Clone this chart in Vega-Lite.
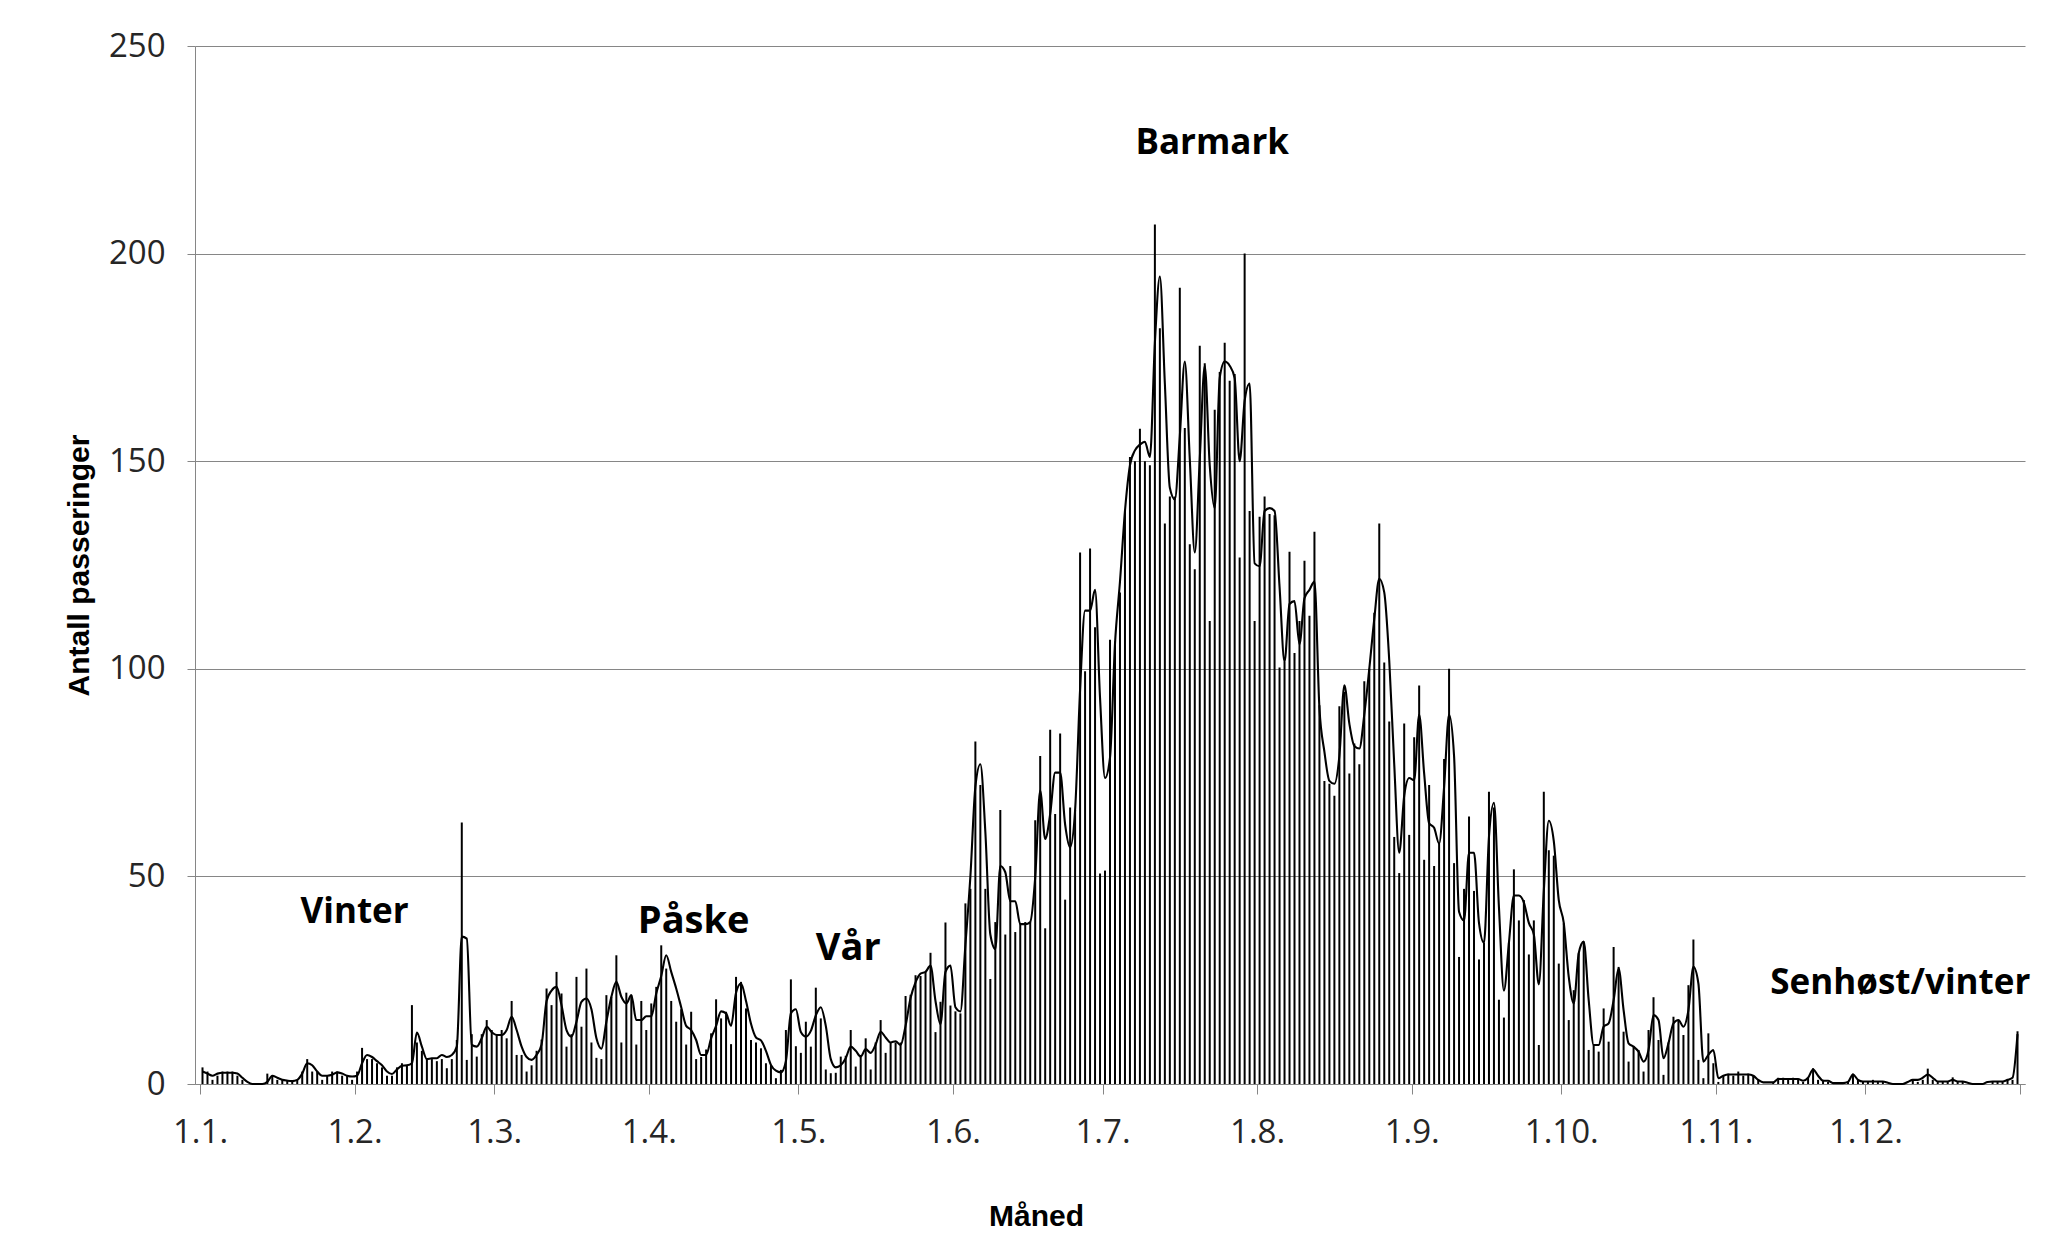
{
  "$schema": "https://vega.github.io/schema/vega-lite/v6.json",
  "autosize": "none",
  "width": 1830,
  "height": 1038,
  "padding": {"left": 195, "top": 46, "right": 32, "bottom": 149},
  "background": "white",
  "config": {"view": {"stroke": null}, "font": "Open Sans"},
  "datasets": {
    "daglig": [
      {"dato":"2011-01-01","antall":4,"utjevnet":3},{"dato":"2011-01-02","antall":3,"utjevnet":2.5},{"dato":"2011-01-03","antall":1,"utjevnet":2},{"dato":"2011-01-04","antall":2,"utjevnet":2.5},{"dato":"2011-01-05","antall":3,"utjevnet":2.7},{"dato":"2011-01-06","antall":3,"utjevnet":2.7},{"dato":"2011-01-07","antall":3,"utjevnet":2.7},{"dato":"2011-01-08","antall":2,"utjevnet":2.5},{"dato":"2011-01-09","antall":1,"utjevnet":1.5},{"dato":"2011-01-10","antall":0,"utjevnet":0.5},{"dato":"2011-01-11","antall":0,"utjevnet":0},{"dato":"2011-01-12","antall":0,"utjevnet":0},{"dato":"2011-01-13","antall":0,"utjevnet":0},{"dato":"2011-01-14","antall":2.5,"utjevnet":0.5},{"dato":"2011-01-15","antall":2,"utjevnet":2},{"dato":"2011-01-16","antall":1,"utjevnet":1.5},{"dato":"2011-01-17","antall":1,"utjevnet":1},{"dato":"2011-01-18","antall":1,"utjevnet":0.8},{"dato":"2011-01-19","antall":0.5,"utjevnet":0.7},{"dato":"2011-01-20","antall":1,"utjevnet":1},{"dato":"2011-01-21","antall":3,"utjevnet":2.5},{"dato":"2011-01-22","antall":6,"utjevnet":5},{"dato":"2011-01-23","antall":3,"utjevnet":4.5},{"dato":"2011-01-24","antall":3,"utjevnet":3},{"dato":"2011-01-25","antall":1,"utjevnet":2},{"dato":"2011-01-26","antall":2,"utjevnet":2},{"dato":"2011-01-27","antall":3,"utjevnet":2.2},{"dato":"2011-01-28","antall":3,"utjevnet":2.8},{"dato":"2011-01-29","antall":2,"utjevnet":2.5},{"dato":"2011-01-30","antall":2,"utjevnet":2},{"dato":"2011-01-31","antall":1,"utjevnet":1.8},
      {"dato":"2011-02-01","antall":3,"utjevnet":2},{"dato":"2011-02-02","antall":8.7,"utjevnet":5},{"dato":"2011-02-03","antall":6,"utjevnet":7},{"dato":"2011-02-04","antall":6,"utjevnet":6.5},{"dato":"2011-02-05","antall":5,"utjevnet":5.5},{"dato":"2011-02-06","antall":4,"utjevnet":4.5},{"dato":"2011-02-07","antall":2,"utjevnet":3},{"dato":"2011-02-08","antall":2,"utjevnet":2.4},{"dato":"2011-02-09","antall":4,"utjevnet":3.5},{"dato":"2011-02-10","antall":5,"utjevnet":4.4},{"dato":"2011-02-11","antall":4.5,"utjevnet":4.5},{"dato":"2011-02-12","antall":19,"utjevnet":5},{"dato":"2011-02-13","antall":10,"utjevnet":12.4},{"dato":"2011-02-14","antall":8,"utjevnet":9},{"dato":"2011-02-15","antall":6,"utjevnet":6},{"dato":"2011-02-16","antall":6,"utjevnet":6.2},{"dato":"2011-02-17","antall":5.5,"utjevnet":6.2},{"dato":"2011-02-18","antall":6,"utjevnet":7},{"dato":"2011-02-19","antall":3.8,"utjevnet":6.5},{"dato":"2011-02-20","antall":6,"utjevnet":7},{"dato":"2011-02-21","antall":10.6,"utjevnet":9},{"dato":"2011-02-22","antall":63,"utjevnet":35.5},{"dato":"2011-02-23","antall":5.8,"utjevnet":35},{"dato":"2011-02-24","antall":12,"utjevnet":9.4},{"dato":"2011-02-25","antall":6.6,"utjevnet":9},{"dato":"2011-02-26","antall":12,"utjevnet":11},{"dato":"2011-02-27","antall":15.4,"utjevnet":13.8},{"dato":"2011-02-28","antall":13,"utjevnet":12.5},
      {"dato":"2011-03-01","antall":12,"utjevnet":11.8},{"dato":"2011-03-02","antall":13,"utjevnet":11.8},{"dato":"2011-03-03","antall":11,"utjevnet":13},{"dato":"2011-03-04","antall":20,"utjevnet":16.2},{"dato":"2011-03-05","antall":7,"utjevnet":13},{"dato":"2011-03-06","antall":7,"utjevnet":9},{"dato":"2011-03-07","antall":3,"utjevnet":6.5},{"dato":"2011-03-08","antall":4.5,"utjevnet":5.8},{"dato":"2011-03-09","antall":8,"utjevnet":7},{"dato":"2011-03-10","antall":10.7,"utjevnet":9.5},{"dato":"2011-03-11","antall":23,"utjevnet":20},{"dato":"2011-03-12","antall":19,"utjevnet":22.5},{"dato":"2011-03-13","antall":27,"utjevnet":23.4},{"dato":"2011-03-14","antall":21.8,"utjevnet":19},{"dato":"2011-03-15","antall":9,"utjevnet":13},{"dato":"2011-03-16","antall":12,"utjevnet":11.4},{"dato":"2011-03-17","antall":25.8,"utjevnet":15},{"dato":"2011-03-18","antall":13.8,"utjevnet":19.8},{"dato":"2011-03-19","antall":27.8,"utjevnet":20.6},{"dato":"2011-03-20","antall":10,"utjevnet":18},{"dato":"2011-03-21","antall":6.3,"utjevnet":11},{"dato":"2011-03-22","antall":6,"utjevnet":8.5},{"dato":"2011-03-23","antall":21.4,"utjevnet":15},{"dato":"2011-03-24","antall":21,"utjevnet":21},{"dato":"2011-03-25","antall":31,"utjevnet":24.6},{"dato":"2011-03-26","antall":10,"utjevnet":21},{"dato":"2011-03-27","antall":22,"utjevnet":19.4},{"dato":"2011-03-28","antall":21.4,"utjevnet":21.4},{"dato":"2011-03-29","antall":9.5,"utjevnet":15.4},{"dato":"2011-03-30","antall":20,"utjevnet":15.4},{"dato":"2011-03-31","antall":13,"utjevnet":16.3},
      {"dato":"2011-04-01","antall":19.4,"utjevnet":16.3},{"dato":"2011-04-02","antall":23.4,"utjevnet":21.8},{"dato":"2011-04-03","antall":33.4,"utjevnet":26},{"dato":"2011-04-04","antall":27.8,"utjevnet":31},{"dato":"2011-04-05","antall":20,"utjevnet":27},{"dato":"2011-04-06","antall":15,"utjevnet":23},{"dato":"2011-04-07","antall":18,"utjevnet":18.5},{"dato":"2011-04-08","antall":9.5,"utjevnet":14},{"dato":"2011-04-09","antall":17.4,"utjevnet":13},{"dato":"2011-04-10","antall":6,"utjevnet":10.6},{"dato":"2011-04-11","antall":6.5,"utjevnet":7},{"dato":"2011-04-12","antall":8.3,"utjevnet":7},{"dato":"2011-04-13","antall":12.2,"utjevnet":11},{"dato":"2011-04-14","antall":20.4,"utjevnet":14},{"dato":"2011-04-15","antall":15.8,"utjevnet":17.5},{"dato":"2011-04-16","antall":17.4,"utjevnet":17},{"dato":"2011-04-17","antall":9.6,"utjevnet":14},{"dato":"2011-04-18","antall":25.8,"utjevnet":22},{"dato":"2011-04-19","antall":24.6,"utjevnet":24.2},{"dato":"2011-04-20","antall":18.2,"utjevnet":20},{"dato":"2011-04-21","antall":10.6,"utjevnet":14.5},{"dato":"2011-04-22","antall":10,"utjevnet":11.2},{"dato":"2011-04-23","antall":8.6,"utjevnet":10.5},{"dato":"2011-04-24","antall":5,"utjevnet":8},{"dato":"2011-04-25","antall":4.6,"utjevnet":4.6},{"dato":"2011-04-26","antall":1.4,"utjevnet":3.2},{"dato":"2011-04-27","antall":3.4,"utjevnet":2.8},{"dato":"2011-04-28","antall":13,"utjevnet":5.5},{"dato":"2011-04-29","antall":25.2,"utjevnet":17},{"dato":"2011-04-30","antall":9.1,"utjevnet":18},
      {"dato":"2011-05-01","antall":7.5,"utjevnet":12.5},{"dato":"2011-05-02","antall":15,"utjevnet":11.4},{"dato":"2011-05-03","antall":9,"utjevnet":12.8},{"dato":"2011-05-04","antall":23.2,"utjevnet":16.5},{"dato":"2011-05-05","antall":15.8,"utjevnet":18.5},{"dato":"2011-05-06","antall":3.5,"utjevnet":14},{"dato":"2011-05-07","antall":2.6,"utjevnet":6},{"dato":"2011-05-08","antall":2.7,"utjevnet":4},{"dato":"2011-05-09","antall":6.6,"utjevnet":4.5},{"dato":"2011-05-10","antall":6.8,"utjevnet":6.2},{"dato":"2011-05-11","antall":13,"utjevnet":9},{"dato":"2011-05-12","antall":4.2,"utjevnet":8},{"dato":"2011-05-13","antall":7,"utjevnet":6.6},{"dato":"2011-05-14","antall":11,"utjevnet":8.4},{"dato":"2011-05-15","antall":3.5,"utjevnet":7.5},{"dato":"2011-05-16","antall":10,"utjevnet":9.5},{"dato":"2011-05-17","antall":15.4,"utjevnet":12.6},{"dato":"2011-05-18","antall":7.5,"utjevnet":11.2},{"dato":"2011-05-19","antall":10,"utjevnet":10},{"dato":"2011-05-20","antall":10,"utjevnet":10.3},{"dato":"2011-05-21","antall":10,"utjevnet":9.4},{"dato":"2011-05-22","antall":21.2,"utjevnet":14},{"dato":"2011-05-23","antall":21.5,"utjevnet":20.7},{"dato":"2011-05-24","antall":26.2,"utjevnet":24.5},{"dato":"2011-05-25","antall":26,"utjevnet":26.6},{"dato":"2011-05-26","antall":27,"utjevnet":27},{"dato":"2011-05-27","antall":31.6,"utjevnet":28.5},{"dato":"2011-05-28","antall":12.5,"utjevnet":20},{"dato":"2011-05-29","antall":19.8,"utjevnet":14.4},{"dato":"2011-05-30","antall":38.9,"utjevnet":27},{"dato":"2011-05-31","antall":18.9,"utjevnet":28.5},
      {"dato":"2011-06-01","antall":17.5,"utjevnet":18.5},{"dato":"2011-06-02","antall":17,"utjevnet":17.5},{"dato":"2011-06-03","antall":43.5,"utjevnet":33.5},{"dato":"2011-06-04","antall":47,"utjevnet":50},{"dato":"2011-06-05","antall":82.5,"utjevnet":71.6},{"dato":"2011-06-06","antall":72,"utjevnet":77},{"dato":"2011-06-07","antall":47,"utjevnet":60.7},{"dato":"2011-06-08","antall":25.3,"utjevnet":36},{"dato":"2011-06-09","antall":39,"utjevnet":32.5},{"dato":"2011-06-10","antall":66,"utjevnet":52.5},{"dato":"2011-06-11","antall":36,"utjevnet":51},{"dato":"2011-06-12","antall":52.5,"utjevnet":44},{"dato":"2011-06-13","antall":36.6,"utjevnet":44},{"dato":"2011-06-14","antall":38.5,"utjevnet":38.5},{"dato":"2011-06-15","antall":39,"utjevnet":38.5},{"dato":"2011-06-16","antall":39,"utjevnet":39},{"dato":"2011-06-17","antall":63.5,"utjevnet":49.8},{"dato":"2011-06-18","antall":79,"utjevnet":70.7},{"dato":"2011-06-19","antall":37.5,"utjevnet":59},{"dato":"2011-06-20","antall":85.3,"utjevnet":65},{"dato":"2011-06-21","antall":65,"utjevnet":75},{"dato":"2011-06-22","antall":84.4,"utjevnet":75},{"dato":"2011-06-23","antall":44.4,"utjevnet":62.5},{"dato":"2011-06-24","antall":66.6,"utjevnet":57},{"dato":"2011-06-25","antall":66,"utjevnet":66},{"dato":"2011-06-26","antall":128,"utjevnet":95},{"dato":"2011-06-27","antall":99.4,"utjevnet":114},{"dato":"2011-06-28","antall":129,"utjevnet":114},{"dato":"2011-06-29","antall":110,"utjevnet":119},{"dato":"2011-06-30","antall":50.7,"utjevnet":93},
      {"dato":"2011-07-01","antall":51.4,"utjevnet":73.7},{"dato":"2011-07-02","antall":107,"utjevnet":78.6},{"dato":"2011-07-03","antall":106.6,"utjevnet":106},{"dato":"2011-07-04","antall":118.4,"utjevnet":121},{"dato":"2011-07-05","antall":138,"utjevnet":138},{"dato":"2011-07-06","antall":151,"utjevnet":149},{"dato":"2011-07-07","antall":150,"utjevnet":152.6},{"dato":"2011-07-08","antall":157.8,"utjevnet":154},{"dato":"2011-07-09","antall":150,"utjevnet":154.7},{"dato":"2011-07-10","antall":149,"utjevnet":151},{"dato":"2011-07-11","antall":207,"utjevnet":178.5},{"dato":"2011-07-12","antall":182,"utjevnet":194.5},{"dato":"2011-07-13","antall":135,"utjevnet":168.7},{"dato":"2011-07-14","antall":141.5,"utjevnet":143.6},{"dato":"2011-07-15","antall":141.5,"utjevnet":140.8},{"dato":"2011-07-16","antall":191.8,"utjevnet":156},{"dato":"2011-07-17","antall":158,"utjevnet":174},{"dato":"2011-07-18","antall":130,"utjevnet":150.5},{"dato":"2011-07-19","antall":124,"utjevnet":128},{"dato":"2011-07-20","antall":177.8,"utjevnet":150.5},{"dato":"2011-07-21","antall":173.6,"utjevnet":173},{"dato":"2011-07-22","antall":111.5,"utjevnet":149},{"dato":"2011-07-23","antall":162.4,"utjevnet":138.7},{"dato":"2011-07-24","antall":171.5,"utjevnet":170},{"dato":"2011-07-25","antall":178.5,"utjevnet":174},{"dato":"2011-07-26","antall":169.4,"utjevnet":173},{"dato":"2011-07-27","antall":171,"utjevnet":170},{"dato":"2011-07-28","antall":126.8,"utjevnet":150},{"dato":"2011-07-29","antall":200,"utjevnet":164.5},{"dato":"2011-07-30","antall":138,"utjevnet":168.7},{"dato":"2011-07-31","antall":111.5,"utjevnet":125.4},
      {"dato":"2011-08-01","antall":136.6,"utjevnet":124.7},{"dato":"2011-08-02","antall":141.5,"utjevnet":138},{"dato":"2011-08-03","antall":137.3,"utjevnet":138.7},{"dato":"2011-08-04","antall":137,"utjevnet":138},{"dato":"2011-08-05","antall":100.3,"utjevnet":119.8},{"dato":"2011-08-06","antall":101.7,"utjevnet":101.7},{"dato":"2011-08-07","antall":128.2,"utjevnet":115.6},{"dato":"2011-08-08","antall":103.8,"utjevnet":116.3},{"dato":"2011-08-09","antall":111.5,"utjevnet":105.9},{"dato":"2011-08-10","antall":126,"utjevnet":117},{"dato":"2011-08-11","antall":112.8,"utjevnet":119},{"dato":"2011-08-12","antall":133,"utjevnet":121},{"dato":"2011-08-13","antall":91.2,"utjevnet":90.5},{"dato":"2011-08-14","antall":73,"utjevnet":80},{"dato":"2011-08-15","antall":72.3,"utjevnet":73},{"dato":"2011-08-16","antall":69.4,"utjevnet":72.3},{"dato":"2011-08-17","antall":91,"utjevnet":79},{"dato":"2011-08-18","antall":94.4,"utjevnet":96},{"dato":"2011-08-19","antall":74.8,"utjevnet":86.8},{"dato":"2011-08-20","antall":82,"utjevnet":81.4},{"dato":"2011-08-21","antall":77,"utjevnet":80.8},{"dato":"2011-08-22","antall":97,"utjevnet":89},{"dato":"2011-08-23","antall":100,"utjevnet":100},{"dato":"2011-08-24","antall":113.5,"utjevnet":112},{"dato":"2011-08-25","antall":135,"utjevnet":121.7},{"dato":"2011-08-26","antall":101.5,"utjevnet":118.4},{"dato":"2011-08-27","antall":87.3,"utjevnet":102},{"dato":"2011-08-28","antall":59.5,"utjevnet":77},{"dato":"2011-08-29","antall":50.8,"utjevnet":55.7},{"dato":"2011-08-30","antall":86.8,"utjevnet":69.4},{"dato":"2011-08-31","antall":60,"utjevnet":73.7},
      {"dato":"2011-09-01","antall":83.5,"utjevnet":73.2},{"dato":"2011-09-02","antall":96,"utjevnet":89},{"dato":"2011-09-03","antall":54,"utjevnet":74.8},{"dato":"2011-09-04","antall":72,"utjevnet":62.8},{"dato":"2011-09-05","antall":52.5,"utjevnet":61.7},{"dato":"2011-09-06","antall":57.9,"utjevnet":57.9},{"dato":"2011-09-07","antall":78.3,"utjevnet":71.5},{"dato":"2011-09-08","antall":100,"utjevnet":89},{"dato":"2011-09-09","antall":53.2,"utjevnet":79},{"dato":"2011-09-10","antall":30.6,"utjevnet":41.5},{"dato":"2011-09-11","antall":47,"utjevnet":39.4},{"dato":"2011-09-12","antall":64.4,"utjevnet":55.7},{"dato":"2011-09-13","antall":46.5,"utjevnet":55.7},{"dato":"2011-09-14","antall":30,"utjevnet":38.8},{"dato":"2011-09-15","antall":34,"utjevnet":34},{"dato":"2011-09-16","antall":70.4,"utjevnet":59.5},{"dato":"2011-09-17","antall":66.6,"utjevnet":67.7},{"dato":"2011-09-18","antall":20.3,"utjevnet":42.6},{"dato":"2011-09-19","antall":16,"utjevnet":22.5},{"dato":"2011-09-20","antall":34,"utjevnet":34},{"dato":"2011-09-21","antall":51.7,"utjevnet":45.4},{"dato":"2011-09-22","antall":39.4,"utjevnet":45.4},{"dato":"2011-09-23","antall":44.3,"utjevnet":43.7},{"dato":"2011-09-24","antall":31.2,"utjevnet":38.8},{"dato":"2011-09-25","antall":39.4,"utjevnet":36},{"dato":"2011-09-26","antall":9.4,"utjevnet":24},{"dato":"2011-09-27","antall":70.4,"utjevnet":46.5},{"dato":"2011-09-28","antall":56.3,"utjevnet":63.4},{"dato":"2011-09-29","antall":55,"utjevnet":58.5},{"dato":"2011-09-30","antall":29,"utjevnet":44.3},
      {"dato":"2011-10-01","antall":38.7,"utjevnet":38.8},{"dato":"2011-10-02","antall":15.4,"utjevnet":25.8},{"dato":"2011-10-03","antall":22.6,"utjevnet":19.4},{"dato":"2011-10-04","antall":31.5,"utjevnet":31.5},{"dato":"2011-10-05","antall":34.3,"utjevnet":34.3},{"dato":"2011-10-06","antall":8.2,"utjevnet":20.2},{"dato":"2011-10-07","antall":9.4,"utjevnet":9.4},{"dato":"2011-10-08","antall":7.8,"utjevnet":9.4},{"dato":"2011-10-09","antall":18.2,"utjevnet":13.8},{"dato":"2011-10-10","antall":10.2,"utjevnet":14.6},{"dato":"2011-10-11","antall":33,"utjevnet":20.2},{"dato":"2011-10-12","antall":28.2,"utjevnet":27.8},{"dato":"2011-10-13","antall":12.6,"utjevnet":17.8},{"dato":"2011-10-14","antall":5.4,"utjevnet":9.8},{"dato":"2011-10-15","antall":9,"utjevnet":9},{"dato":"2011-10-16","antall":8.2,"utjevnet":7.8},{"dato":"2011-10-17","antall":3,"utjevnet":5.4},{"dato":"2011-10-18","antall":13,"utjevnet":8.2},{"dato":"2011-10-19","antall":20.9,"utjevnet":16.6},{"dato":"2011-10-20","antall":10.6,"utjevnet":15.4},{"dato":"2011-10-21","antall":2.2,"utjevnet":6.2},{"dato":"2011-10-22","antall":10,"utjevnet":9.8},{"dato":"2011-10-23","antall":16.2,"utjevnet":14.6},{"dato":"2011-10-24","antall":15.4,"utjevnet":15.4},{"dato":"2011-10-25","antall":11.8,"utjevnet":13.8},{"dato":"2011-10-26","antall":23.8,"utjevnet":17.8},{"dato":"2011-10-27","antall":34.8,"utjevnet":28.2},{"dato":"2011-10-28","antall":5.8,"utjevnet":24.2},{"dato":"2011-10-29","antall":1.4,"utjevnet":5.4},{"dato":"2011-10-30","antall":12.2,"utjevnet":7},{"dato":"2011-10-31","antall":5,"utjevnet":8.2},
      {"dato":"2011-11-01","antall":0.5,"utjevnet":1.4},{"dato":"2011-11-02","antall":2,"utjevnet":2},{"dato":"2011-11-03","antall":2.5,"utjevnet":2.3},{"dato":"2011-11-04","antall":2,"utjevnet":2.3},{"dato":"2011-11-05","antall":3,"utjevnet":2.3},{"dato":"2011-11-06","antall":2,"utjevnet":2.3},{"dato":"2011-11-07","antall":2.5,"utjevnet":2.3},{"dato":"2011-11-08","antall":2,"utjevnet":2},{"dato":"2011-11-09","antall":1,"utjevnet":1},{"dato":"2011-11-10","antall":0,"utjevnet":0.4},{"dato":"2011-11-11","antall":0,"utjevnet":0.4},{"dato":"2011-11-12","antall":0.5,"utjevnet":0.4},{"dato":"2011-11-13","antall":1.5,"utjevnet":1.2},{"dato":"2011-11-14","antall":1.5,"utjevnet":1.2},{"dato":"2011-11-15","antall":1,"utjevnet":1.2},{"dato":"2011-11-16","antall":1.5,"utjevnet":1.2},{"dato":"2011-11-17","antall":1,"utjevnet":1.2},{"dato":"2011-11-18","antall":0.5,"utjevnet":0.8},{"dato":"2011-11-19","antall":1.5,"utjevnet":1.5},{"dato":"2011-11-20","antall":3.8,"utjevnet":3.5},{"dato":"2011-11-21","antall":1,"utjevnet":2},{"dato":"2011-11-22","antall":1,"utjevnet":0.8},{"dato":"2011-11-23","antall":0.5,"utjevnet":0.8},{"dato":"2011-11-24","antall":0,"utjevnet":0.2},{"dato":"2011-11-25","antall":0,"utjevnet":0.2},{"dato":"2011-11-26","antall":0,"utjevnet":0.2},{"dato":"2011-11-27","antall":0.5,"utjevnet":0.5},{"dato":"2011-11-28","antall":2.5,"utjevnet":2.3},{"dato":"2011-11-29","antall":1,"utjevnet":1},{"dato":"2011-11-30","antall":0.5,"utjevnet":0.6},
      {"dato":"2011-12-01","antall":0.5,"utjevnet":0.6},{"dato":"2011-12-02","antall":1,"utjevnet":0.6},{"dato":"2011-12-03","antall":0.5,"utjevnet":0.6},{"dato":"2011-12-04","antall":0.5,"utjevnet":0.6},{"dato":"2011-12-05","antall":0,"utjevnet":0.3},{"dato":"2011-12-06","antall":0,"utjevnet":0},{"dato":"2011-12-07","antall":0,"utjevnet":0},{"dato":"2011-12-08","antall":0,"utjevnet":0},{"dato":"2011-12-09","antall":0,"utjevnet":0.5},{"dato":"2011-12-10","antall":1,"utjevnet":1},{"dato":"2011-12-11","antall":0.5,"utjevnet":1},{"dato":"2011-12-12","antall":1,"utjevnet":1.5},{"dato":"2011-12-13","antall":3.7,"utjevnet":2.3},{"dato":"2011-12-14","antall":1,"utjevnet":1.5},{"dato":"2011-12-15","antall":0.5,"utjevnet":0.6},{"dato":"2011-12-16","antall":0.5,"utjevnet":0.6},{"dato":"2011-12-17","antall":0.5,"utjevnet":0.6},{"dato":"2011-12-18","antall":1.6,"utjevnet":1},{"dato":"2011-12-19","antall":0.5,"utjevnet":0.6},{"dato":"2011-12-20","antall":0.5,"utjevnet":0.6},{"dato":"2011-12-21","antall":0,"utjevnet":0.3},{"dato":"2011-12-22","antall":0,"utjevnet":0},{"dato":"2011-12-23","antall":0,"utjevnet":0},{"dato":"2011-12-24","antall":0,"utjevnet":0},{"dato":"2011-12-25","antall":0,"utjevnet":0.5},{"dato":"2011-12-26","antall":0.5,"utjevnet":0.6},{"dato":"2011-12-27","antall":0.5,"utjevnet":0.6},{"dato":"2011-12-28","antall":0.5,"utjevnet":0.6},{"dato":"2011-12-29","antall":1,"utjevnet":1},{"dato":"2011-12-30","antall":1,"utjevnet":1.5},{"dato":"2011-12-31","antall":12.7,"utjevnet":12}
    ],
    "perioder": [
      {"tekst":"Vinter","dato":"2011-02-01","antall":41.4},
      {"tekst":"Påske","dato":"2011-04-10","antall":38.9},
      {"tekst":"Vår","dato":"2011-05-11","antall":32.6},
      {"tekst":"Barmark","dato":"2011-07-23","antall":226.6},
      {"tekst":"Senhøst/vinter","dato":"2011-12-08","antall":24.3}
    ]
  },
  "layer": [
    {
      "data": {"name": "daglig", "format": {"parse": {"dato": "date:'%Y-%m-%d'"}}},
      "layer": [
        {
          "mark": {"type": "bar", "width": 2, "color": "#000000", "xOffset": 2.5},
          "encoding": {
            "x": {
              "field": "dato", "type": "temporal", "title": "Måned",
              "scale": {"domain": [{"year": 2011, "month": 1, "date": 1}, {"year": 2012, "month": 1, "date": 1}]},
              "axis": {
                "tickCount": {"interval": "month", "step": 1},
                "labelExpr": "year(datum.value) > 2011 ? '' : timeFormat(datum.value, '%-d.%-m.')",
                "grid": false,
                "domainColor": "#868686", "tickColor": "#868686", "tickSize": 10,
                "labelFont": "Open Sans", "labelFontSize": 33, "labelColor": "#262626", "labelPadding": 22,
                "labelFlush": false, "labelOverlap": false,
                "titleFont": "Liberation Sans", "titleFontSize": 30, "titleFontWeight": "bold", "titleColor": "#000000",
                "titlePadding": 52, "titleX": 841
              }
            },
            "y": {
              "field": "antall", "type": "quantitative", "title": "Antall passeringer",
              "scale": {"domain": [0, 250], "nice": false},
              "axis": {
                "values": [0, 50, 100, 150, 200, 250],
                "grid": true, "gridColor": "#868686", "gridWidth": 1,
                "domainColor": "#868686", "tickColor": "#868686", "tickSize": 8,
                "labelFont": "Open Sans", "labelFontSize": 33, "labelColor": "#262626", "labelPadding": 22,
                "titleFont": "Liberation Sans", "titleFontSize": 30, "titleFontWeight": "bold", "titleColor": "#000000",
                "titlePadding": 14
              }
            }
          }
        },
        {
          "mark": {"type": "line", "color": "#000000", "strokeWidth": 2.1, "interpolate": "monotone", "xOffset": 2.5},
          "encoding": {
            "x": {"field": "dato", "type": "temporal"},
            "y": {"field": "utjevnet", "type": "quantitative"}
          }
        }
      ]
    },
    {
      "data": {"name": "perioder", "format": {"parse": {"dato": "date:'%Y-%m-%d'"}}},
      "mark": {"type": "text", "font": "Open Sans", "fontWeight": "bold", "color": "#000000", "align": "center", "baseline": "middle"},
      "encoding": {
        "x": {"field": "dato", "type": "temporal"},
        "y": {"field": "antall", "type": "quantitative"},
        "text": {"field": "tekst"},
        "size": {"condition": {"test": "datum.tekst == 'Påske' || datum.tekst == 'Vår'", "value": 38}, "value": 35}
      }
    }
  ]
}
